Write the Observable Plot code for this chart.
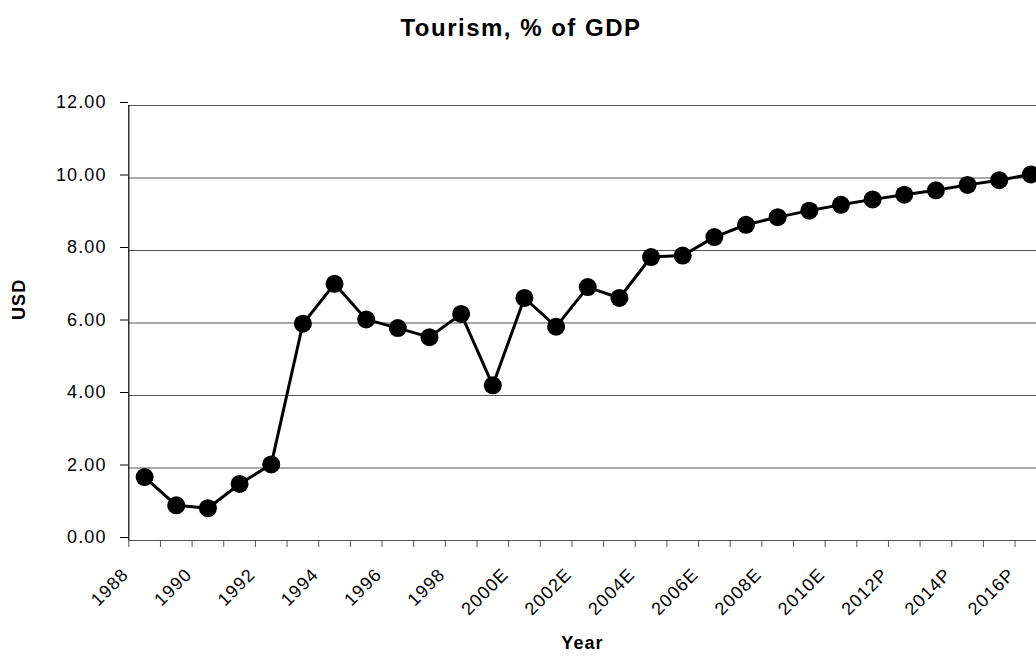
<!DOCTYPE html>
<html>
<head>
<meta charset="utf-8">
<script src="https://cdn.jsdelivr.net/npm/d3@7"></script>
<script src="https://cdn.jsdelivr.net/npm/@observablehq/plot@0.6"></script>
<style>
  body { margin: 0; background: #fff; }
  #wrap { position: relative; width: 1036px; height: 658px; overflow: hidden; background: #fff;
          font-family: "Liberation Sans", Arial, sans-serif; }
  #title { position: absolute; left: 0; top: 16px; width: 1042px; text-align: center;
           font-weight: bold; font-size: 24px; line-height: 24px; letter-spacing: 1.5px; color: #000; }
  #wrap svg text { letter-spacing: 1.1px; }
</style>
</head>
<body>
<div id="wrap">
  <div id="chart"></div>
  <div id="title">Tourism, % of GDP</div>
</div>
<script>
const years = ["1988","1989","1990","1991","1992","1993","1994","1995","1996","1997","1998","1999",
  "2000E","2001E","2002E","2003E","2004E","2005E","2006E","2007E","2008E","2009E","2010E",
  "2011P","2012P","2013P","2014P","2015P","2016P"];
const values = [1.75,0.97,0.89,1.56,2.10,5.98,7.08,6.10,5.86,5.61,6.25,4.28,
  6.69,5.90,6.99,6.69,7.82,7.86,8.37,8.71,8.92,9.10,9.26,
  9.41,9.54,9.66,9.81,9.94,10.10];
const yTicks = [0, 2, 4, 6, 8, 10, 12];
const yTitle = "USD";
const xTitle = "Year";

const data = years.map((y, i) => ({pos: i + 0.5, year: y, value: values[i]}));
const boundaries = d3.range(0, years.length);
const labelPos = d3.range(0, years.length, 2).map(i => i + 0.5);

const chart = Plot.plot({
  width: 1036,
  height: 658,
  marginTop: 105,
  marginBottom: 118,
  marginLeft: 128,
  marginRight: 0,
  style: {fontFamily: "'Liberation Sans', Arial, sans-serif", fontSize: "18px", background: "white", color: "black"},
  x: {type: "linear", domain: [0, years.length], range: [128.3, 1046.2]},
  y: {domain: [0, 12], range: [540, 105]},
  marks: [
    Plot.gridY(yTicks, {stroke: "#555", strokeOpacity: 1, strokeWidth: 1}),
    Plot.ruleY([0], {stroke: "#555", strokeWidth: 1.2}),
    Plot.ruleX([0], {stroke: "#000", strokeWidth: 1.2}),
    Plot.axisY(yTicks, {tickSize: 8, tickPadding: 14, stroke: "#000", tickFormat: d3.format(".2f"),
      fontSize: 18, dy: -3, label: null}),
    Plot.axisX(boundaries, {tickSize: 7, stroke: "#555", tickFormat: () => "", label: null}),
    Plot.axisX(labelPos, {tickSize: 0, tickPadding: 31, tickRotate: -45, dx: -19,
      tickFormat: d => years[Math.round(d - 0.5)], fontSize: 18, label: null}),
    Plot.line(data, {x: "pos", y: "value", stroke: "#000", strokeWidth: 3}),
    Plot.dot(data, {x: "pos", y: "value", r: 9, fill: "#000", stroke: "none"}),
    Plot.text([yTitle], {text: d => d, frameAnchor: "left", rotate: -90, dx: -109.5, dy: -3,
      fontWeight: "bold", fontSize: 18}),
    Plot.text([xTitle], {text: d => d, frameAnchor: "bottom", dy: 108.5, fontWeight: "bold", fontSize: 18})
  ]
});
document.getElementById("chart").appendChild(chart);
</script>
</body>
</html>
